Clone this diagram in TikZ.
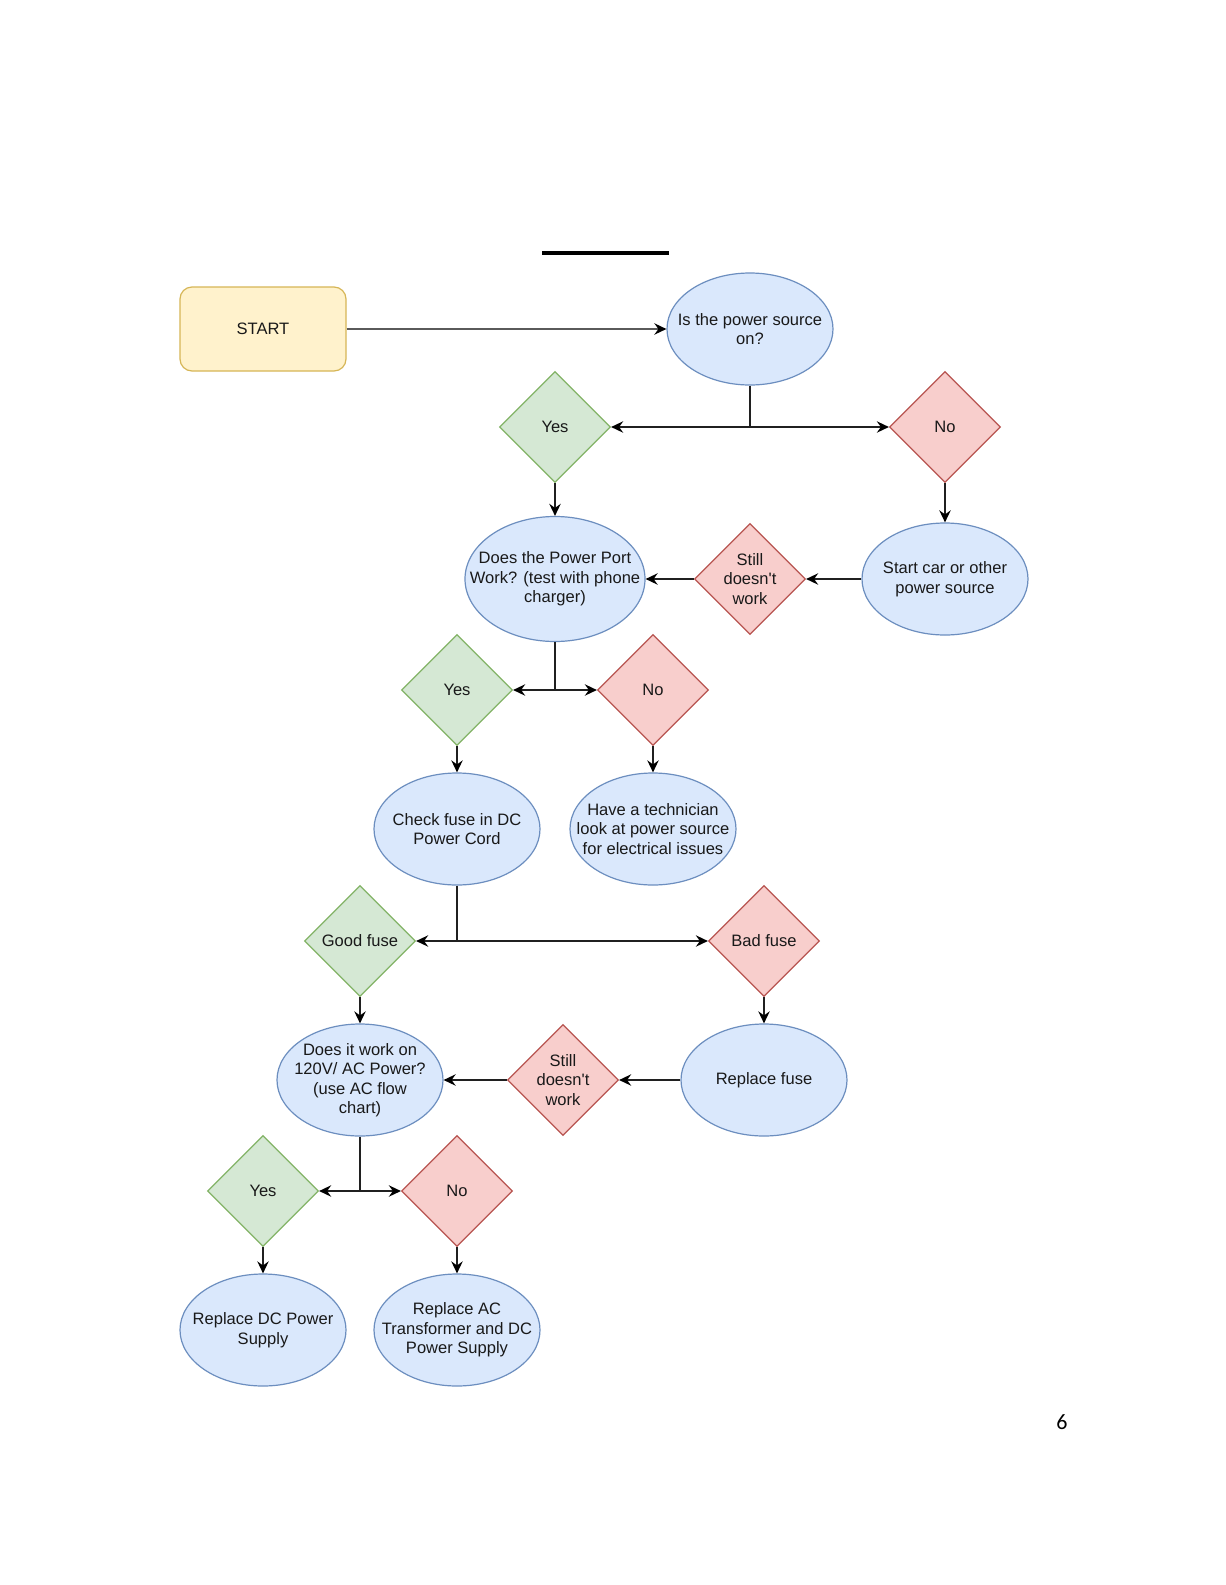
\documentclass[tikz,border=0pt]{standalone}
\usepackage{fontspec}
\setmainfont{Liberation Sans}
\newfontfamily\pagefont{Carlito}
\usetikzlibrary{shapes.geometric,arrows.meta}
\definecolor{yfill}{HTML}{FFF2CC}\definecolor{ydraw}{HTML}{D6B656}
\definecolor{bfill}{HTML}{DAE8FC}\definecolor{bdraw}{HTML}{6C8EBF}
\definecolor{gfill}{HTML}{D5E8D4}\definecolor{gdraw}{HTML}{82B366}
\definecolor{rfill}{HTML}{F8CECC}\definecolor{rdraw}{HTML}{B85450}
\definecolor{lncol}{HTML}{202020}
\definecolor{startln}{HTML}{5A5A5A}
\begin{document}
\begin{tikzpicture}[x=0.75pt,y=-0.75pt,
  txt/.style={font=\fontsize{12.4}{14.6}\selectfont, align=center, inner sep=0pt, text=black!90},
  bell/.style={ellipse, draw=bdraw, fill=bfill, line width=0.9pt, inner sep=0pt, minimum width={166*0.75pt}, minimum height={112*0.75pt}},
  gdia/.style={diamond, draw=gdraw, fill=gfill, line width=0.9pt, inner sep=0pt, minimum width={111*0.75pt}, minimum height={111*0.75pt}},
  rdia/.style={diamond, draw=rdraw, fill=rfill, line width=0.9pt, inner sep=0pt, minimum width={111*0.75pt}, minimum height={111*0.75pt}},
  tip/.style={-{Stealth[length=9pt,width=8.5pt,inset=3pt,color=black,fill=black]}},
  arr/.style={tip, line width=1.4pt, draw=lncol},
  ln/.style={line width=1.4pt, draw=lncol}
]
\useasboundingbox (0,0) rectangle (1225,1585);
\fill[white] (0,0) rectangle (1225,1585);

% title underline
\coordinate (ul1) at (542,253);
\coordinate (ul2) at (669,253);
\draw[line width=2.3pt] (ul1) -- (ul2);

% START
\node[rectangle, rounded corners=9pt, draw=ydraw, fill=yfill, line width=0.9pt, minimum width={166*0.75pt}, minimum height={84*0.75pt}, inner sep=0pt] (start) at (263,329) {};
\node[txt] (startt) at (start) {START};

% level 1
\node[bell] (e1) at (750,329) {};
\node[txt] (e1t) at (e1) {Is the power source\\on?};
\node[gdia] (y1) at (555,427) {};
\node[txt] (y1t) at (y1) {Yes};
\node[rdia] (n1) at (945,427) {};
\node[txt] (n1t) at (n1) {No};

% level 2
\node[bell, minimum width={180*0.75pt}, minimum height={125*0.75pt}] (e2) at (555,579) {};
\node[txt] (e2t) at (e2) {Does the Power Port\\Work? (test with phone\\charger)};
\node[rdia] (s1) at (750,579) {};
\node[txt] (s1t) at (s1) {Still\\doesn\textquotesingle t\\work};
\node[bell] (e3) at (945,579) {};
\node[txt] (e3t) at (e3) {Start car or other\\power source};

% level 3
\node[gdia] (y2) at (457,690) {};
\node[txt] (y2t) at (y2) {Yes};
\node[rdia] (n2) at (653,690) {};
\node[txt] (n2t) at (n2) {No};

% level 4
\node[bell] (e4) at (457,829) {};
\node[txt] (e4t) at (e4) {Check fuse in DC\\Power Cord};
\node[bell] (e5) at (653,829) {};
\node[txt] (e5t) at (e5) {Have a technician\\look at power source\\for electrical issues};

% level 5
\node[gdia] (gf) at (360,941) {};
\node[txt] (gft) at (gf) {Good fuse};
\node[rdia] (bf) at (764,941) {};
\node[txt] (bft) at (bf) {Bad fuse};

% level 6
\node[bell] (e6) at (360,1080) {};
\node[txt] (e6t) at (e6) {Does it work on\\120V/ AC Power?\\(use AC flow\\chart)};
\node[rdia] (s2) at (563,1080) {};
\node[txt] (s2t) at (s2) {Still\\doesn\textquotesingle t\\work};
\node[bell] (e7) at (764,1080) {};
\node[txt] (e7t) at (e7) {Replace fuse};

% level 7
\node[gdia] (y3) at (263,1191) {};
\node[txt] (y3t) at (y3) {Yes};
\node[rdia] (n3) at (457,1191) {};
\node[txt] (n3t) at (n3) {No};

% level 8
\node[bell] (e8) at (263,1330) {};
\node[txt] (e8t) at (e8) {Replace DC Power\\Supply};
\node[bell] (e9) at (457,1330) {};
\node[txt] (e9t) at (e9) {Replace AC\\Transformer and DC\\Power Supply};

% page number
\node[font=\pagefont\fontsize{16.5}{18}\selectfont, inner sep=0pt] (pg) at (1062,1422) {6};

% connectors
\draw[tip, line width=1.7pt, draw=startln] (start.east) -- (e1.west);

\coordinate (j1) at (750,427);
\draw[ln] (e1.south) -- (j1);
\draw[arr] (j1) -- (y1.east);
\draw[arr] (j1) -- (n1.west);
\draw[arr] (y1.south) -- (e2.north);
\draw[arr] (n1.south) -- (e3.north);
\draw[arr] (e3.west) -- (s1.east);
\draw[arr] (s1.west) -- (e2.east);

\coordinate (j2) at (555,690);
\draw[ln] (e2.south) -- (j2);
\draw[arr] (j2) -- (y2.east);
\draw[arr] (j2) -- (n2.west);
\draw[arr] (y2.south) -- (e4.north);
\draw[arr] (n2.south) -- (e5.north);

\coordinate (j3) at (457,941);
\draw[ln] (e4.south) -- (j3);
\draw[arr] (j3) -- (gf.east);
\draw[arr] (j3) -- (bf.west);
\draw[arr] (gf.south) -- (e6.north);
\draw[arr] (bf.south) -- (e7.north);
\draw[arr] (e7.west) -- (s2.east);
\draw[arr] (s2.west) -- (e6.east);

\coordinate (j4) at (360,1191);
\draw[ln] (e6.south) -- (j4);
\draw[arr] (j4) -- (y3.east);
\draw[arr] (j4) -- (n3.west);
\draw[arr] (y3.south) -- (e8.north);
\draw[arr] (n3.south) -- (e9.north);
\end{tikzpicture}
\end{document}
